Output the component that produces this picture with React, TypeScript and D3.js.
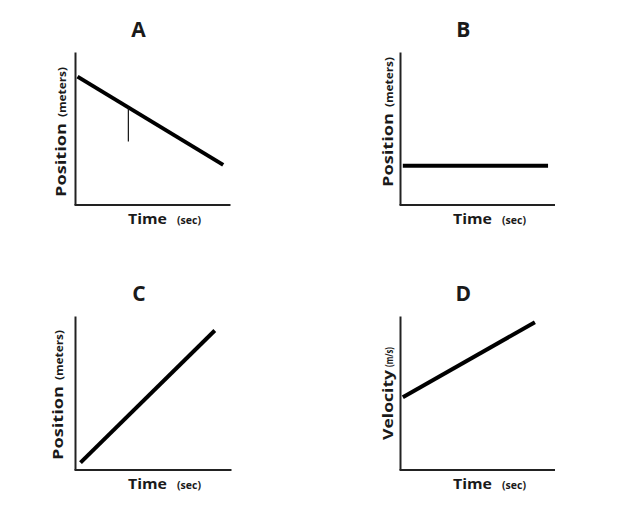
import React from "react";
import * as d3 from "d3";

// Panel titles and axis labels
const panelTitles = ["A", "B", "C", "D"];
const yLabels = ["Position", "Position", "Position", "Velocity"];
const yUnits = ["(meters)", "(meters)", "(meters)", "(m/s)"];
const xLabels = ["Time", "Time", "Time", "Time"];
const xUnits = ["(sec)", "(sec)", "(sec)", "(sec)"];

// Line endpoints per panel (x: time, y: value) on a 0–10 arbitrary scale
const lineA: [number, number][] = [[0.13, 8.42], [9.53, 2.63]];
const lineB: [number, number][] = [[0.15, 2.58], [9.55, 2.58]];
const lineC: [number, number][] = [[0.32, 0.48], [8.93, 9.09]];
const lineD: [number, number][] = [[0.15, 4.74], [8.7, 9.63]];
const lines = [lineA, lineB, lineC, lineD];

// Thin marker segment in panel A (x, y0, y1)
const markerA = { x: 3.41, y0: 6.38, y1: 4.16 };

const xDomain: [number, number] = [0, 10];
const yDomain: [number, number] = [0, 10];

const W = 644;
const H = 527;

const boxes = [
  { left: 75.5, right: 230.5, top: 52.5, bottom: 205 },
  { left: 400.5, right: 555, top: 52.5, bottom: 205 },
  { left: 75.5, right: 231.5, top: 316.5, bottom: 470 },
  { left: 400.5, right: 555, top: 316.5, bottom: 470 },
];

const FONT = "'Open Sans', 'DejaVu Sans', sans-serif";
const TEXT = "#1a1a1a";

function Panel({ i }: { i: number }) {
  const b = boxes[i];
  const x = d3.scaleLinear().domain(xDomain).range([b.left, b.right]);
  const y = d3.scaleLinear().domain(yDomain).range([b.bottom, b.top]);
  const line = d3
    .line<[number, number]>()
    .x((d) => x(d[0]))
    .y((d) => y(d[1]));
  const cx = (b.left + b.right) / 2;
  const isD = i === 3;
  const yLabelX = b.left - (i === 0 ? 10 : i === 1 ? 8 : i === 2 ? 13 : 8);
  const yLabelY = i === 0 ? 197 : i === 1 ? 187 : i === 2 ? 460 : 440;
  return (
    <g>
      <text
        x={cx - 14.5}
        y={b.top - 16}
        textAnchor="middle"
        fontFamily={FONT}
        fontWeight={700}
        fontSize={21}
        fill={TEXT}
      >
        {panelTitles[i]}
      </text>
      {/* axes */}
      <line x1={x(0)} y1={b.top} x2={x(0)} y2={y(0)} stroke="#222" strokeWidth={2} />
      <line x1={x(0) - 1} y1={y(0)} x2={b.right} y2={y(0)} stroke="#222" strokeWidth={2} />
      {/* data line */}
      <path d={line(lines[i]) || ""} fill="none" stroke="#000" strokeWidth={4} />
      {i === 0 && (
        <line
          x1={x(markerA.x)}
          x2={x(markerA.x)}
          y1={y(markerA.y0)}
          y2={y(markerA.y1)}
          stroke="#111"
          strokeWidth={1.2}
        />
      )}
      {/* x label */}
      <text
        x={b.left + 52.5}
        y={b.bottom + 19}
        fontFamily={FONT}
        fontWeight={700}
        fontSize={15}
        fill={TEXT}
        textLength={39}
        lengthAdjust="spacingAndGlyphs"
      >
        {xLabels[i]}
      </text>
      <text
        x={b.left + 101.5}
        y={b.bottom + 19}
        fontFamily={FONT}
        fontWeight={700}
        fontSize={10}
        fill={TEXT}
        textLength={24}
        lengthAdjust="spacingAndGlyphs"
      >
        {xUnits[i]}
      </text>
      {/* y label */}
      <g transform={`translate(${yLabelX},${yLabelY}) rotate(-90)`}>
        <text
          x={0}
          y={0}
          fontFamily={FONT}
          fontWeight={700}
          fontSize={15}
          fill={TEXT}
          textLength={isD ? 70 : 74}
          lengthAdjust="spacingAndGlyphs"
        >
          {yLabels[i]}
        </text>
        <text
          x={isD ? 73 : 80}
          y={0}
          fontFamily={FONT}
          fontWeight={700}
          fontSize={10}
          fill={TEXT}
          textLength={isD ? 20 : 50}
          lengthAdjust="spacingAndGlyphs"
        >
          {yUnits[i]}
        </text>
      </g>
    </g>
  );
}

export default function App() {
  return (
    <svg
      width={W}
      height={H}
      style={{ position: "absolute", left: 0, top: 0, background: "#fff" }}
    >
      <rect width={W} height={H} fill="#fff" />
      {[0, 1, 2, 3].map((i) => (
        <Panel key={i} i={i} />
      ))}
    </svg>
  );
}
